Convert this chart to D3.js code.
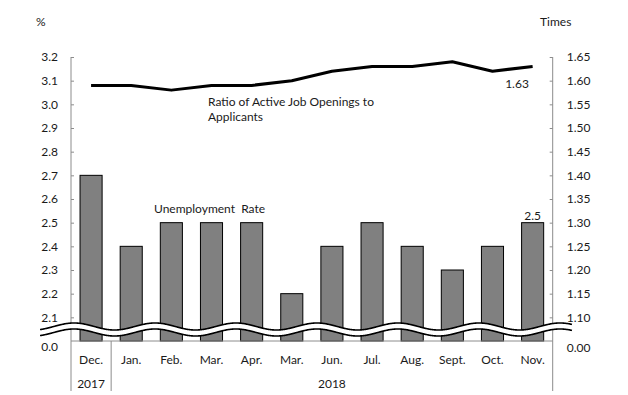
<!DOCTYPE html>
<html><head><meta charset="utf-8">
<script src="https://cdn.jsdelivr.net/npm/d3@7"></script>
<style>
body{margin:0;background:#fff}
svg{display:block}
text{font-family:Lato,"Open Sans",sans-serif;fill:#1a1a1a}
</style>
</head><body>
<svg id="c" width="628" height="395"></svg>
<script>
// ---- data ----
const months = ["Dec.","Jan.","Feb.","Mar.","Apr.","Mar.","Jun.","Jul.","Aug.","Sept.","Oct.","Nov."];
const yearGroups = ["2017","2018"];
const yearStart = [0, 1];
const yearEnd = [0, 11];
const unemployment = [2.7,2.4,2.5,2.5,2.5,2.2,2.4,2.5,2.4,2.3,2.4,2.5];
const ratio = [1.59,1.59,1.58,1.59,1.59,1.60,1.62,1.63,1.63,1.64,1.62,1.63];
const leftTicks = [2.1,2.2,2.3,2.4,2.5,2.6,2.7,2.8,2.9,3.0,3.1,3.2];
const rightTicks = [1.10,1.15,1.20,1.25,1.30,1.35,1.40,1.45,1.50,1.55,1.60,1.65];

// ---- layout ----
const L = 71, R = 552.7, T = 57, B = 341, BOT = 391;
const axisColor = "#8c8c8c";
const svg = d3.select("#c");

const x = d3.scaleBand().domain(d3.range(months.length)).range([L, R])
  .paddingInner(0.45).paddingOuter(0.225);
const yL = d3.scaleLinear().domain([2.0, 3.2]).range([B, T]);
const yR = d3.scaleLinear().domain([1.05, 1.65]).range([B, T]);

// bars
svg.append("g").selectAll("rect").data(unemployment).join("rect")
  .attr("x", (d,i) => x(i)).attr("width", x.bandwidth())
  .attr("y", d => yL(d)).attr("height", d => B - yL(d))
  .attr("fill", "#808080").attr("stroke", "#000").attr("stroke-width", 1);

// left axis
const gL = svg.append("g").attr("transform", `translate(${L},0)`)
  .call(d3.axisLeft(yL).tickValues(leftTicks).tickFormat(d3.format(".1f"))
    .tickSizeInner(-3).tickSizeOuter(0).tickPadding(13));
gL.select(".domain").remove();
gL.selectAll("line").attr("stroke", axisColor);
gL.selectAll("text").attr("font-size", 12).attr("font-family", "Lato").attr("fill", "#1a1a1a");

// right axis
const gR = svg.append("g").attr("transform", `translate(${R},0)`)
  .call(d3.axisRight(yR).tickValues(rightTicks).tickFormat(d3.format(".2f"))
    .tickSizeInner(-3).tickSizeOuter(0).tickPadding(14));
gR.select(".domain").remove();
gR.selectAll("line").attr("stroke", axisColor);
gR.selectAll("text").attr("font-size", 12).attr("font-family", "Lato").attr("fill", "#1a1a1a");

// axis lines
svg.append("line").attr("x1", L).attr("x2", L).attr("y1", T).attr("y2", BOT).attr("stroke", axisColor);
svg.append("line").attr("x1", R).attr("x2", R).attr("y1", T).attr("y2", BOT).attr("stroke", axisColor);
svg.append("line").attr("x1", L).attr("x2", R).attr("y1", B).attr("y2", B).attr("stroke", axisColor);

// year separators
const step = x.step();
yearStart.forEach((s, k) => {
  if (s > 0) {
    const bx = L + x.paddingOuter()*0 + s*step + (x.range()[0]-L);
    svg.append("line").attr("x1", bx).attr("x2", bx).attr("y1", B).attr("y2", BOT).attr("stroke", axisColor);
  }
});

// zero labels (broken axis)
svg.append("text").attr("x", L - 13).attr("y", 347).attr("dy", "0.35em")
  .attr("text-anchor", "end").attr("font-size", 12).text("0.0");
svg.append("text").attr("x", R + 14).attr("y", 348).attr("dy", "0.35em")
  .attr("font-size", 12).text("0.00");

// month labels
svg.append("g").selectAll("text").data(months).join("text")
  .attr("x", (d,i) => x(i) + x.bandwidth()/2).attr("y", 360).attr("dy", "0.35em")
  .attr("text-anchor", "middle").attr("font-size", 12).text(d => d);

// year labels
svg.append("g").selectAll("text").data(yearGroups).join("text")
  .attr("x", (d,k) => (L + yearStart[k]*step + L + (yearEnd[k]+1)*step)/2)
  .attr("y", 384).attr("dy", "0.35em")
  .attr("text-anchor", "middle").attr("font-size", 12).text(d => d);

// axis unit titles
svg.append("text").attr("x", 36).attr("y", 22).attr("dy", "0.35em").attr("font-size", 12).text("%");
svg.append("text").attr("x", 540).attr("y", 22).attr("dy", "0.35em").attr("font-size", 12).text("Times");

// ratio line
const line = d3.line().x((d,i) => x(i) + x.bandwidth()/2).y(d => yR(d));
svg.append("path").datum(ratio).attr("d", line)
  .attr("fill", "none").attr("stroke", "#000").attr("stroke-width", 3)
  .attr("stroke-linejoin", "round");

// axis break wave
const period = 81, amp = 3.5, cy = 326.5, gap = 6;
const xs = d3.range(40, 572.5, 0.5);
const up = xs.map(v => [v, cy - amp*Math.cos(2*Math.PI*(v-560)/period)]);
const lo = up.map(p => [p[0], p[1] + gap]);
svg.append("path")
  .attr("d", "M" + up.map(p => p.join(",")).join("L") + "L" + lo.slice().reverse().map(p => p.join(",")).join("L") + "Z")
  .attr("fill", "#fff").attr("stroke", "none");
const wl = d3.line();
svg.append("path").attr("d", wl(up)).attr("fill", "none").attr("stroke", "#000").attr("stroke-width", 1.6);
svg.append("path").attr("d", wl(lo)).attr("fill", "none").attr("stroke", "#000").attr("stroke-width", 1.6);

// annotations
svg.append("text").attr("x", 208).attr("y", 102).attr("dy", "0.35em").attr("font-size", 12)
  .text("Ratio of Active Job Openings to");
svg.append("text").attr("x", 208).attr("y", 117).attr("dy", "0.35em").attr("font-size", 12)
  .text("Applicants");
svg.append("text").attr("x", 154).attr("y", 209).attr("dy", "0.35em").attr("font-size", 12)
  .style("white-space", "pre").text("Unemployment  Rate");
const last = months.length - 1;
svg.append("text").attr("x", 517).attr("y", 84).attr("dy", "0.35em").attr("font-size", 12)
  .attr("text-anchor", "middle").text(d3.format(".2f")(ratio[last]));
svg.append("text").attr("x", x(last) + x.bandwidth()/2).attr("y", 216).attr("dy", "0.35em")
  .attr("font-size", 12).attr("text-anchor", "middle").text(d3.format(".1f")(unemployment[last]));
</script>
</body></html>
